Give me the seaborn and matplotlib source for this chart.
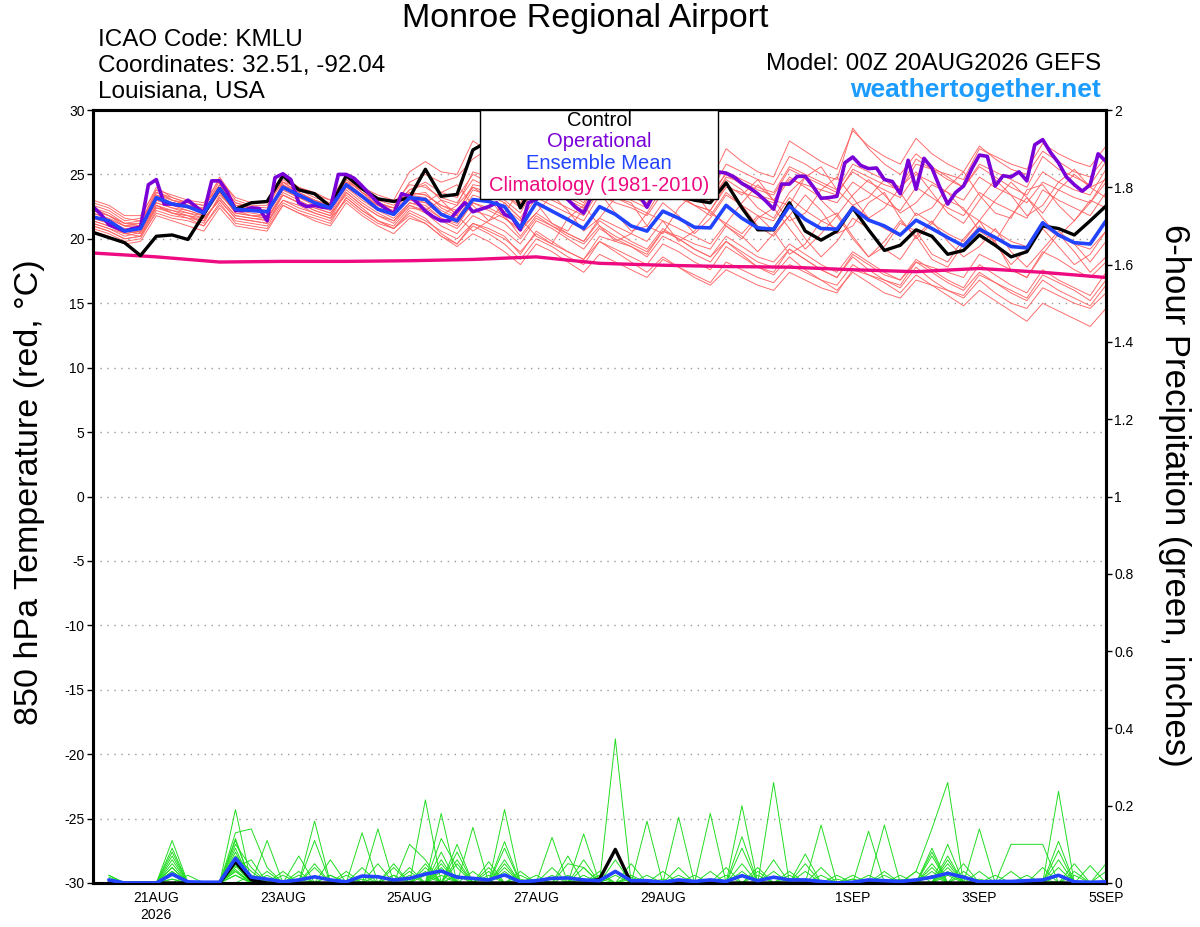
import numpy as np
import pandas as pd
import matplotlib
matplotlib.use("Agg")
import matplotlib.pyplot as plt
import matplotlib.dates as mdates
from matplotlib.patches import Rectangle
import seaborn as sns

# ---------------- data ----------------
start = pd.Timestamp("2026-08-20 00:00")

control_temp = [20.5, 20.1, 19.7, 18.7, 20.2, 20.3, 19.95, 21.9, 23.9, 22.3, 22.8, 22.9, 24.9, 23.8, 23.5, 22.5,
                24.9, 23.9, 23.1, 22.9, 23.2, 25.4, 23.3, 23.45, 26.9, 27.6, 25.5, 22.4, 24.5, 24.8, 24.0, 23.6,
                24.6, 24.2, 23.8, 23.5, 24.3, 23.3, 23.0, 22.8, 24.35, 22.4, 20.7, 20.7, 22.8, 20.6, 19.9, 20.6,
                22.4, 20.7, 19.1, 19.5, 20.7, 20.2, 18.8, 19.1, 20.3, 19.5, 18.6, 19.0, 21.0, 20.8, 20.3, 21.4, 22.55]

mean_temp = [21.7, 21.4, 20.6, 20.8, 23.2, 22.7, 22.5, 22.0, 23.9, 22.3, 22.2, 22.1, 24.0, 23.4, 22.8, 22.4,
             24.2, 23.3, 22.3, 21.9, 23.2, 23.05, 21.9, 21.4, 23.05, 22.9, 22.5, 20.85, 22.8, 22.15, 21.5, 20.8,
             22.5, 21.9, 21.0, 20.6, 22.15, 21.6, 20.9, 20.85, 22.6, 21.6, 20.85, 20.75, 22.55, 21.5, 20.8, 20.75,
             22.4, 21.45, 21.0, 20.3, 21.45, 20.8, 20.1, 19.45, 20.75, 20.1, 19.4, 19.3, 21.25, 20.3, 19.7, 19.6, 21.4]

# operational run is 3-hourly
oper_temp = [22.5, 21.9, 21.1, 20.85, 20.6, 20.8, 20.9, 24.2, 24.6, 22.7, 22.7, 22.6, 23.0, 22.5, 22.0, 24.5,
             24.5, 23.6, 22.2, 22.2, 22.4, 22.35, 21.4, 24.75, 25.05, 24.6, 22.8, 22.5, 22.6, 22.45, 22.4, 25.0,
             25.0, 24.7, 24.1, 23.45, 22.8, 22.35, 21.95, 23.5, 23.3, 22.8, 22.15, 21.7, 21.4, 21.4, 22.15, 22.8,
             22.1, 22.3, 22.5, 22.8, 21.9, 21.6, 20.7, 22.8, 23.05, 23.5, 23.8, 23.6, 23.05, 22.45, 22.0, 23.3,
             24.0, 24.3, 24.0, 23.8, 23.6, 23.4, 22.45, 23.6, 24.2, 24.5, 24.6, 24.8, 24.6, 24.0, 23.2, 25.2,
             25.1, 24.8, 24.3, 23.95, 23.5, 22.95, 22.3, 24.25, 24.25, 24.85, 24.85, 24.05, 23.15, 23.2, 23.3, 25.9,
             26.35, 25.7, 25.45, 25.5, 24.6, 24.45, 23.5, 26.1, 23.85, 26.25, 25.5, 24.0, 22.7, 23.6, 24.1, 25.4,
             26.5, 26.4, 24.1, 24.9, 24.8, 25.2, 24.5, 27.3, 27.7, 26.7, 25.9, 24.8, 24.2, 23.7, 24.2, 26.6, 26.0]

# climatology, daily
clim_temp = [18.9, 18.6, 18.2, 18.25, 18.25, 18.3, 18.4, 18.6, 18.1, 17.95, 17.85, 17.8, 17.6, 17.45, 17.7, 17.4, 17.0]

temp_m01 = [22.0, 21.5, 21.0, 21.2, 23.8, 23.0, 22.6, 22.3, 24.5, 22.8, 22.5, 22.4, 24.6, 23.8, 23.2, 22.8, 24.8, 23.6, 22.8, 22.4, 23.8,
            24.2, 23.0, 22.6, 25.2, 24.8, 24.0, 23.2, 25.6, 25.0, 24.4, 23.8, 26.0, 25.2, 24.6, 24.0, 26.4, 25.6, 24.8, 24.4, 27.0,
            26.0, 25.2, 24.8, 27.6, 26.8, 26.0, 25.4, 28.4, 27.2, 26.4, 25.8, 27.8, 26.6, 25.8, 25.2, 27.2, 26.2, 25.4, 25.0, 26.8, 26.0, 25.2, 24.8, 26.4]
temp_m02 = [21.2, 20.8, 20.2, 20.5, 22.6, 22.0, 21.8, 21.4, 23.2, 21.8, 21.6, 21.5, 23.4, 22.8, 22.2, 21.8, 23.6, 22.6, 21.8, 21.2, 22.6,
            22.0, 21.0, 20.4, 21.8, 21.2, 20.6, 19.6, 21.4, 20.8, 20.0, 19.2, 20.8, 20.0, 19.4, 18.6, 20.2, 19.6, 18.8, 18.2, 19.8,
            19.0, 18.2, 17.8, 19.2, 18.4, 17.6, 17.0, 18.6, 17.6, 16.8, 16.2, 17.8, 16.8, 16.0, 15.4, 16.8, 15.8, 15.0, 14.6, 16.2, 15.6, 15.0, 14.6, 15.8]
temp_m03 = [22.4, 22.0, 21.2, 21.0, 23.6, 23.2, 22.8, 22.2, 24.0, 22.6, 22.4, 22.0, 24.2, 23.6, 23.0, 22.6, 24.4, 23.4, 22.6, 22.0, 23.4,
            23.6, 22.4, 21.8, 23.8, 23.4, 22.8, 21.6, 23.6, 23.0, 22.4, 21.8, 23.8, 23.2, 22.6, 22.0, 24.0, 23.4, 22.6, 22.2, 24.2,
            23.4, 24.6, 23.0, 22.6, 24.8, 25.6, 23.8, 22.6, 23.2, 24.6, 23.6, 21.8, 22.4, 24.0, 25.2, 23.4, 22.0, 21.6, 23.8, 24.2, 22.6, 21.4, 22.8, 24.4]
temp_m04 = [21.0, 20.6, 20.0, 20.2, 22.4, 22.2, 22.0, 21.6, 23.0, 21.6, 21.4, 21.2, 23.0, 22.6, 22.0, 21.6, 23.0, 22.0, 21.2, 20.8, 22.2,
            21.6, 20.4, 19.6, 21.2, 20.8, 20.2, 18.8, 20.6, 19.8, 19.0, 18.4, 20.2, 19.8, 19.4, 18.8, 20.6, 20.2, 19.6, 19.2, 21.0,
            20.2, 19.0, 20.4, 21.8, 20.0, 18.6, 19.8, 21.6, 20.8, 19.2, 18.4, 20.2, 21.4, 19.8, 18.6, 19.4, 20.8, 19.0, 17.8, 19.2, 20.6, 19.6, 18.2, 19.8]
temp_m05 = [22.8, 22.4, 21.6, 21.4, 23.2, 22.8, 22.6, 22.4, 24.8, 23.0, 22.6, 22.6, 24.8, 24.0, 23.6, 23.0, 25.0, 24.0, 23.4, 23.0, 25.2,
            26.0, 25.2, 25.0, 27.6, 26.8, 25.6, 24.2, 26.2, 25.4, 24.4, 23.4, 25.0, 24.2, 23.4, 22.6, 24.2, 23.4, 22.6, 21.8, 23.6,
            22.6, 21.8, 21.4, 23.2, 22.2, 21.4, 20.8, 22.6, 21.6, 20.8, 20.2, 22.0, 21.2, 20.4, 19.8, 21.4, 20.6, 19.8, 19.4, 21.0, 20.2, 19.6, 19.2, 20.6]
temp_m06 = [21.6, 21.2, 20.4, 20.6, 22.8, 22.4, 22.2, 21.8, 23.6, 22.0, 21.8, 21.6, 23.6, 23.0, 22.4, 22.0, 23.4, 22.4, 21.4, 20.8, 21.8,
            21.2, 20.2, 19.4, 20.4, 19.8, 19.0, 18.0, 19.6, 19.0, 18.2, 17.4, 18.8, 18.2, 17.6, 17.0, 18.4, 17.8, 17.2, 16.6, 18.2,
            17.6, 17.0, 16.6, 18.0, 17.4, 16.8, 16.4, 18.0, 17.2, 16.6, 15.8, 17.2, 16.4, 15.6, 14.8, 16.0, 15.2, 14.4, 13.6, 15.0, 14.4, 13.8, 13.2, 14.6]
temp_m07 = [22.2, 21.8, 21.0, 20.8, 23.0, 22.6, 22.4, 22.0, 23.8, 22.4, 22.2, 22.0, 24.4, 23.6, 23.0, 22.4, 24.6, 23.6, 22.6, 22.2, 23.6,
            23.4, 22.6, 22.0, 24.2, 24.0, 23.4, 22.6, 24.8, 24.2, 23.6, 22.8, 25.0, 24.4, 23.8, 23.2, 25.4, 24.8, 24.2, 23.6, 25.8,
            25.2, 24.6, 24.2, 26.4, 25.8, 25.0, 24.6, 28.6, 27.0, 25.8, 25.0, 26.6, 25.6, 24.8, 24.0, 25.6, 24.8, 24.0, 23.4, 25.2, 24.4, 23.8, 23.4, 25.4]
temp_m08 = [20.8, 20.4, 19.8, 20.0, 22.2, 21.8, 21.6, 21.0, 22.8, 21.2, 21.0, 20.8, 22.6, 22.0, 21.6, 21.2, 23.2, 22.2, 21.4, 21.0, 22.4,
            22.2, 23.0, 21.8, 20.6, 21.4, 22.8, 21.6, 20.2, 19.6, 21.6, 22.6, 21.0, 19.8, 20.4, 22.0, 21.4, 19.8, 20.6, 22.2, 21.0,
            20.0, 21.6, 22.4, 20.8, 19.2, 20.4, 21.8, 20.0, 18.6, 19.4, 21.2, 20.6, 18.8, 18.2, 20.0, 21.4, 19.6, 18.0, 19.2, 20.8, 19.4, 18.0, 18.8, 20.6]
temp_m09 = [23.0, 22.6, 21.8, 21.8, 23.8, 23.4, 23.0, 22.8, 24.6, 23.2, 22.8, 22.8, 24.4, 24.0, 23.4, 23.0, 24.4, 23.8, 23.2, 22.8, 24.2,
            24.0, 23.2, 22.8, 24.6, 24.0, 23.4, 22.4, 24.4, 23.8, 23.0, 22.4, 24.2, 23.6, 23.0, 22.4, 24.8, 24.2, 23.6, 23.0, 25.2,
            24.6, 24.0, 23.6, 25.6, 25.0, 24.4, 23.8, 25.8, 25.2, 24.6, 24.0, 26.2, 25.4, 24.6, 24.0, 25.8, 25.2, 24.6, 24.0, 26.4, 25.4, 24.8, 24.2, 26.0]
temp_m10 = [21.4, 21.0, 20.6, 20.4, 22.4, 22.0, 21.8, 21.2, 23.4, 22.2, 21.8, 21.8, 23.8, 23.2, 22.6, 22.2, 24.0, 23.0, 22.2, 21.6, 22.8,
            22.4, 21.6, 21.0, 22.8, 22.2, 21.6, 20.6, 22.0, 21.2, 20.4, 19.8, 21.4, 20.6, 19.8, 19.2, 20.8, 20.0, 19.2, 18.6, 19.8,
            18.8, 17.8, 17.2, 18.6, 17.6, 16.8, 16.0, 17.4, 16.6, 15.8, 15.4, 16.8, 16.4, 16.0, 15.6, 17.2, 16.6, 16.0, 15.4, 17.2, 16.6, 16.0, 15.2, 16.8]
temp_m11 = [22.6, 22.2, 21.4, 21.6, 24.0, 23.2, 22.8, 22.6, 24.2, 22.6, 22.4, 22.2, 23.8, 23.2, 22.8, 22.4, 24.2, 23.2, 22.4, 22.0, 23.0,
            22.8, 23.6, 24.2, 22.6, 21.4, 22.0, 23.8, 22.8, 21.2, 20.6, 22.4, 23.6, 22.0, 20.6, 21.0, 22.8, 21.8, 20.4, 21.6, 23.4,
            22.6, 21.0, 20.2, 21.8, 23.4, 22.2, 20.4, 21.0, 22.8, 23.6, 21.6, 20.0, 21.2, 23.0, 22.4, 20.6, 19.8, 21.8, 23.2, 21.6, 20.2, 21.4, 23.0, 22.4]
temp_m12 = [21.8, 21.4, 20.8, 20.8, 22.8, 22.4, 22.0, 21.8, 23.6, 22.0, 21.8, 21.6, 23.4, 22.8, 22.4, 22.0, 24.0, 23.2, 22.6, 22.4, 24.4,
            25.0, 24.4, 24.8, 26.2, 27.0, 26.6, 25.2, 26.0, 25.2, 24.4, 23.6, 25.4, 24.8, 24.2, 23.6, 25.6, 25.0, 24.2, 23.6, 25.0,
            24.2, 23.4, 23.0, 24.8, 24.0, 23.2, 22.8, 24.4, 23.6, 22.8, 22.2, 24.0, 23.2, 22.4, 21.8, 23.6, 22.8, 22.2, 21.6, 23.8, 23.0, 22.4, 21.8, 23.6]
temp_m13 = [20.6, 20.2, 19.6, 19.8, 21.8, 21.4, 21.0, 20.6, 22.4, 21.0, 20.8, 20.6, 22.6, 22.0, 21.4, 21.0, 22.8, 21.8, 21.0, 20.4, 21.6,
            21.2, 20.2, 19.6, 21.0, 20.4, 19.6, 18.4, 20.0, 19.4, 18.6, 18.0, 19.8, 19.2, 18.6, 18.0, 19.6, 19.0, 18.2, 17.6, 19.4,
            18.6, 17.8, 17.4, 19.2, 18.4, 17.6, 17.0, 18.8, 18.0, 17.2, 16.8, 18.4, 17.6, 16.8, 16.2, 18.0, 17.2, 16.4, 15.8, 17.6, 16.8, 16.2, 15.6, 17.4]
temp_m14 = [22.0, 21.6, 21.0, 21.0, 23.4, 22.8, 22.4, 22.0, 24.2, 22.8, 22.4, 22.2, 24.0, 23.2, 22.8, 22.4, 24.4, 23.4, 22.6, 22.0, 23.4,
            23.2, 22.2, 21.6, 23.4, 23.0, 22.4, 21.4, 23.2, 22.6, 22.0, 21.4, 23.4, 22.8, 22.4, 21.8, 23.6, 23.2, 22.6, 22.2, 24.0,
            23.6, 23.2, 22.8, 24.6, 24.2, 23.8, 23.4, 25.4, 24.8, 24.2, 23.8, 25.8, 25.4, 25.0, 24.6, 27.0, 26.4, 25.8, 25.4, 27.4, 26.6, 26.0, 25.6, 27.2]
temp_m15 = [21.2, 20.8, 20.4, 20.2, 22.6, 22.2, 21.8, 21.6, 23.0, 21.6, 21.4, 21.2, 23.4, 22.8, 22.2, 21.8, 23.8, 22.8, 22.0, 21.4, 22.8,
            22.6, 21.6, 21.2, 22.8, 22.4, 21.8, 20.2, 21.8, 21.0, 20.4, 19.8, 21.6, 21.0, 20.4, 19.8, 21.4, 20.8, 20.2, 19.6, 21.2,
            20.4, 21.8, 20.6, 18.8, 19.6, 21.4, 22.0, 20.2, 18.6, 19.8, 21.4, 20.2, 18.4, 17.8, 19.6, 21.0, 19.8, 17.6, 17.0, 18.8, 20.4, 19.0, 17.4, 18.6]
temp_m16 = [22.4, 21.8, 21.2, 21.2, 23.4, 23.0, 22.8, 22.6, 24.0, 22.6, 22.2, 22.2, 24.2, 23.4, 23.0, 22.6, 24.6, 23.6, 23.0, 22.6, 23.8,
            24.4, 23.6, 23.2, 25.0, 24.4, 23.8, 22.8, 24.6, 24.2, 23.8, 23.2, 25.4, 25.0, 24.4, 23.8, 25.2, 24.6, 23.8, 23.2, 24.6,
            23.8, 22.4, 21.6, 23.6, 24.8, 23.0, 21.8, 23.4, 24.6, 23.4, 22.0, 22.8, 24.2, 23.6, 22.2, 21.4, 23.0, 24.4, 23.2, 22.0, 23.8, 25.0, 24.0, 24.6]
temp_m17 = [21.0, 20.6, 20.0, 20.2, 22.0, 21.6, 21.4, 21.0, 22.6, 21.4, 21.2, 21.0, 22.8, 22.2, 21.8, 21.4, 23.2, 22.2, 21.4, 20.8, 22.0,
            21.4, 20.6, 20.0, 21.2, 20.6, 20.0, 19.0, 20.4, 19.6, 19.0, 18.4, 19.8, 19.0, 18.2, 17.4, 18.6, 17.8, 17.0, 16.4, 17.6,
            17.0, 16.4, 16.0, 17.4, 16.8, 16.2, 15.8, 17.6, 17.2, 16.8, 16.4, 18.2, 17.8, 17.4, 17.0, 18.8, 18.2, 17.6, 17.0, 19.0, 18.4, 17.6, 17.0, 18.2]
temp_m18 = [22.2, 21.8, 21.2, 21.4, 23.6, 23.0, 22.6, 22.2, 23.8, 22.4, 22.2, 22.0, 24.2, 23.4, 22.8, 22.4, 24.2, 23.2, 22.4, 21.8, 23.2,
            22.8, 21.8, 22.6, 24.0, 23.2, 21.6, 20.8, 22.0, 23.4, 22.2, 20.6, 21.6, 23.2, 22.8, 21.0, 20.4, 22.4, 23.6, 22.0, 21.2,
            22.8, 24.2, 23.0, 21.4, 22.0, 23.8, 24.8, 23.2, 21.6, 22.4, 24.0, 25.2, 23.6, 22.0, 21.2, 23.0, 24.6, 23.4, 21.8, 22.6, 24.4, 25.4, 24.0, 23.2]
temp_m19 = [21.6, 21.2, 20.6, 20.6, 23.0, 22.6, 22.2, 21.8, 23.8, 22.2, 22.0, 21.8, 24.4, 23.6, 23.0, 22.6, 24.8, 23.8, 22.8, 22.4, 23.6,
            23.4, 22.6, 22.2, 24.0, 23.6, 23.0, 22.0, 24.2, 23.8, 23.2, 22.6, 24.6, 24.0, 23.4, 22.8, 24.6, 24.0, 23.4, 22.8, 24.8,
            24.4, 23.8, 23.4, 25.4, 24.8, 24.2, 23.6, 25.2, 24.4, 23.8, 23.2, 25.0, 24.4, 23.6, 23.0, 24.8, 24.0, 23.4, 22.8, 24.4, 23.8, 23.2, 22.8, 24.8]
temp_m20 = [21.4, 21.0, 20.4, 20.6, 22.6, 22.0, 21.6, 21.4, 23.2, 21.8, 21.6, 21.4, 23.0, 22.4, 22.0, 21.6, 23.6, 22.6, 21.8, 21.4, 22.6,
            22.2, 21.4, 20.8, 22.2, 21.8, 21.2, 20.0, 21.6, 21.0, 20.2, 19.6, 21.0, 20.2, 19.6, 19.0, 20.6, 20.0, 19.2, 18.6, 20.2,
            19.4, 18.6, 18.2, 19.6, 18.8, 18.0, 17.4, 19.0, 18.2, 17.4, 16.8, 18.2, 17.4, 16.6, 16.0, 17.4, 16.6, 15.8, 15.2, 16.8, 16.0, 15.4, 14.8, 16.4]

ens_temp = [temp_m01, temp_m02, temp_m03, temp_m04, temp_m05, temp_m06, temp_m07, temp_m08, temp_m09, temp_m10,
            temp_m11, temp_m12, temp_m13, temp_m14, temp_m15, temp_m16, temp_m17, temp_m18, temp_m19, temp_m20]

# 6-hour precipitation (inches), valid 06Z 20 Aug .. 00Z 5 Sep
mean_precip = [.008, 0, 0, 0, .023, .003, .002, .002, .064, .015, .01, .003, .008, .016, .008, .003,
               .018, .016, .008, .012, .023, .031, .015, .012, .008, .021, .003, .006, .012, .013, .008, .006,
               .03, .006, .006, .002, .008, .004, .008, .004, .019, .006, .015, .008, .008, .004, 0, .002,
               .008, .006, .004, .008, .015, .025, .015, .003, .004, .004, .006, .008, .02, .003, .002, .003]
control_precip = [0, 0, 0, 0, 0, 0, 0, 0, .055, .008, 0, 0, 0, 0, 0, 0,
                  0, 0, 0, 0, 0, 0, 0, 0, 0, 0, 0, 0, 0, 0, 0, .01,
                  .087, 0, 0, 0, 0, 0, 0, 0, 0, 0, 0, 0, 0, 0, 0, 0,
                  0, 0, 0, 0, 0, 0, 0, 0, 0, 0, 0, 0, 0, 0, 0, 0]

prcp_m01 = [.02,0,0,0,.11,0,0,0, .19,0,0,0,0,.16,0,0, 0,0,0,0,.215,0,0,0, 0,.19,0,0,0,0,0,0, .373,0,0,0,0,0,0,0, 0,0,.26,0,0,0,0,0, 0,0,0,.03,.14,.26,0,0, 0,0,0,0,.237,0,0,0]
prcp_m02 = [0,0,0,0,.09,0,0,0, .13,.14,.04,0,0,0,0,0, .13,0,0,0,0,.18,0,0, 0,0,0,0,0,.07,0,0, 0,0,0,0,.17,0,0,0, 0,0,0,0,0,0,0,0, .134,0,0,0,.09,0,0,0, 0,0,0,0,.108,0,0,0]
prcp_m03 = [0,0,0,0,.07,0,0,0, .115,0,0,.02,0,.11,0,0, 0,.14,0,0,0,0,.10,0, .055,0,0,0,0,0,.127,0, 0,0,.16,0,0,0,0,0, .12,0,0,0,0,.15,0,0, 0,0,0,0,0,0,0,.14, 0,0,0,0,0,.05,0,0]
prcp_m04 = [0,0,0,0,.05,0,0,0, .09,0,.11,0,.07,0,0,0, 0,0,0,.10,.06,0,0,.144, 0,.107,0,0,0,0,0,.03, 0,0,0,0,0,0,.18,0, 0,0,0,0,.075,0,0,0, 0,.15,0,0,.08,0,0,0, 0,.1,.1,.1,0,0,0,0]
prcp_m05 = [.015,0,0,0,.04,0,0,0, .07,.03,0,0,0,0,.02,0, 0,0,.05,0,0,.115,.04,0, 0,0,0,0,.118,0,0,0, .03,0,0,0,0,0,0,0, .2,0,0,.03,0,0,0,0, 0,0,0,0,0,.06,0,0, 0,0,0,0,.084,0,0,.05]
prcp_m06 = [0,0,0,0,.03,0,0,0, .05,0,0,0,0,0,0,.03, 0,0,0,.04,0,.08,0,0, 0,.06,0,0,0,.05,.04,0, 0,.02,0,0,0,0,0,0, .09,0,.06,0,0,0,0,.02, 0,0,0,0,.07,0,0,0, 0,0,0,0,0,0,.045,0]
prcp_m07 = [0,0,0,0,.02,0,0,0, .04,.06,0,0,0,.04,0,0, 0,.05,0,0,.05,0,0,0, .03,0,0,.02,0,0,0,0, 0,0,0,.03,0,0,0,0, 0,.04,0,0,0,0,.01,0, 0,0,0,0,0,.04,0,0, 0,.03,0,0,0,0,0,0]
prcp_m08 = [0,0,0,0,0,0,0,0, .03,0,.03,0,0,0,0,0, .04,0,.02,0,0,0,.06,0, 0,0,.02,0,0,0,.06,0, 0,0,0,0,.04,0,0,0, 0,0,0,.02,0,0,0,0, 0,.03,0,0,0,0,.05,0, 0,0,0,.04,0,0,0,0]
prcp_m09 = [0,0,0,0,.01,0,0,0, .02,0,0,0,.03,0,0,0, 0,0,0,.02,0,.05,0,0, 0,.04,0,0,0,0,0,.02, 0,0,0,0,0,0,0,.04, 0,0,0,0,.05,0,0,0, 0,0,0,.03,0,.07,0,0, 0,0,0,0,.02,0,0,0]
prcp_m10 = [0,0,0,0,0,.02,0,0, .06,0,0,0,0,0,.02,0, 0,0,0,0,.03,0,.02,0, 0,0,0,0,.04,0,0,0, 0,.05,0,0,0,0,0,0, .05,0,0,0,0,0,0,.01, 0,0,0,0,.04,0,0,.03, 0,0,0,0,0,.03,0,0]
prcp_m11 = [0,0,0,0,.06,0,0,0, .1,.04,0,0,0,0,0,0, .02,0,0,0,0,.03,0,0, 0,.09,0,0,0,0,.04,0, 0,0,0,0,0,0,.03,0, 0,0,0,0,0,.04,0,0, 0,0,.02,0,0,.10,0,0, 0,0,0,0,.06,0,0,0]
prcp_m12 = [0,0,0,0,0,0,0,0, .08,0,0,0,0,.05,0,0, 0,0,.04,0,0,.06,0,.03, 0,0,0,0,0,.02,0,0, .06,0,0,0,.02,0,0,0, 0,0,.03,0,0,0,0,0, .02,0,0,0,0,0,.03,0, 0,0,0,.01,0,0,0,0]
prcp_m13 = [0,0,0,0,.08,0,0,0, .06,0,0,0,0,0,0,0, 0,0,0,0,.02,0,.05,0, 0,0,.01,0,0,0,0,.02, 0,0,.02,0,0,0,0,0, .02,0,0,0,0,0,0,0, 0,0,0,0,.05,0,0,0, .02,0,0,0,0,0,0,0]
prcp_m14 = [0,0,0,0,0,0,0,0, .02,0,0,.03,0,0,0,.02, 0,0,0,0,0,.02,0,0, .02,0,0,0,.02,0,0,0, 0,.01,0,0,0,0,0,0, 0,.02,0,0,0,0,0,0, 0,0,.01,0,0,.03,0,0, 0,0,0,0,0,0,0,0]
prcp_m15 = [0,0,0,0,.04,0,0,0, 0,.02,0,0,.02,0,0,0, 0,0,0,.03,0,0,0,0, 0,.03,0,0,0,0,.02,0, 0,0,0,0,0,.02,0,0, 0,0,0,0,.03,0,0,0, 0,0,0,0,.02,0,0,0, 0,0,0,0,.04,0,0,0]
prcp_m16 = [0,0,0,0,0,0,0,0, .11,0,.02,0,0,0,0,0, 0,.02,0,0,0,0,.08,0, 0,0,0,.01,0,0,0,0, .02,0,0,0,0,0,0,0, .03,0,0,0,0,0,.02,0, 0,0,0,0,0,.05,0,0, 0,0,0,0,0,0,0,.03]
prcp_m17 = [0,0,0,0,.01,0,0,0, .045,0,0,0,0,0,.06,0, 0,0,0,0,.04,0,0,0, 0,0,.03,0,0,0,0,0, 0,0,0,.01,0,0,0,0, 0,0,0,.01,0,0,0,0, 0,0,0,0,0,0,.02,0, 0,0,.02,0,0,0,0,0]
prcp_m18 = [0,0,0,0,0,0,0,0, .03,0,0,0,.01,0,0,0, 0,0,0,0,0,.04,0,0, .04,0,0,0,0,0,0,.01, 0,0,0,0,0,0,0,.02, 0,0,0,0,0,.02,0,0, 0,0,0,0,.03,0,0,0, 0,0,0,0,0,.02,0,0]
prcp_m19 = [.02,0,0,0,0,0,0,0, .055,0,0,0,0,0,0,0, .01,0,0,0,0,0,.02,0, 0,0,0,0,0,0,.01,0, 0,0,0,0,0,0,.01,0, 0,0,0,0,0,0,0,.01, 0,0,0,0,0,.02,0,0, 0,0,0,0,0,0,0,0]
prcp_m20 = [0,0,0,0,.03,0,0,0, .035,0,0,0,0,0,0,0, 0,0,.02,0,0,0,0,0, 0,.05,0,0,0,0,0,0, 0,.015,0,0,0,0,0,0, 0,.03,0,0,0,0,0,0, 0,.02,0,0,0,0,0,.01, 0,0,0,0,0,0,0,0]

ens_precip = [prcp_m01, prcp_m02, prcp_m03, prcp_m04, prcp_m05, prcp_m06, prcp_m07, prcp_m08, prcp_m09, prcp_m10,
              prcp_m11, prcp_m12, prcp_m13, prcp_m14, prcp_m15, prcp_m16, prcp_m17, prcp_m18, prcp_m19, prcp_m20]

xtick_dates = ["2026-08-21", "2026-08-23", "2026-08-25", "2026-08-27", "2026-08-29", "2026-09-01", "2026-09-03", "2026-09-05"]
xtick_labels = ["21AUG\n2026", "23AUG", "25AUG", "27AUG", "29AUG", "1SEP", "3SEP", "5SEP"]
temp_ticks = list(range(-30, 31, 5))
prcp_ticks = [0, 0.2, 0.4, 0.6, 0.8, 1.0, 1.2, 1.4, 1.6, 1.8, 2.0]

# ---------------- frames ----------------
t6 = pd.date_range(start, periods=len(mean_temp), freq="6h")
t3 = pd.date_range(start, periods=len(oper_temp), freq="3h")
td = pd.date_range(start, periods=len(clim_temp), freq="1D")
tp = pd.date_range(start + pd.Timedelta(hours=6), periods=len(mean_precip), freq="6h")

ens_t_df = pd.concat([pd.DataFrame({"time": t6, "value": m, "member": k}) for k, m in enumerate(ens_temp)])
ens_p_df = pd.concat([pd.DataFrame({"time": tp, "value": m, "member": k}) for k, m in enumerate(ens_precip)])

# ---------------- plot ----------------
sns.set_theme(style="white")
plt.rcParams["font.family"] = ["Liberation Sans", "DejaVu Sans"]
plt.rcParams["text.color"] = "black"
plt.rcParams["axes.labelcolor"] = "black"
plt.rcParams["xtick.color"] = "black"
plt.rcParams["ytick.color"] = "black"

fig = plt.figure(figsize=(12, 9.27), dpi=100)
ax = fig.add_axes([93 / 1200, 1 - 883 / 927, (1106 - 93) / 1200, (883 - 110) / 927])
ax2 = ax.twinx()

RED = "#ff6464"
GREEN = "#22dd22"
PURPLE = "#7a00d8"
BLUE = "#2244ff"
PINK = "#ee0a80"

sns.lineplot(data=ens_t_df, x="time", y="value", units="member", estimator=None,
             color=RED, lw=0.65, ax=ax, legend=False, zorder=2)
sns.lineplot(x=td, y=clim_temp, color=PINK, lw=2.4, ax=ax, zorder=3)
sns.lineplot(x=t6, y=control_temp, color="black", lw=2.4, ax=ax, zorder=4)
sns.lineplot(x=t3, y=oper_temp, color=PURPLE, lw=2.6, ax=ax, zorder=5)
sns.lineplot(x=t6, y=mean_temp, color=BLUE, lw=2.6, ax=ax, zorder=6)

sns.lineplot(data=ens_p_df, x="time", y="value", units="member", estimator=None,
             color=GREEN, lw=0.7, ax=ax2, legend=False, zorder=2)
sns.lineplot(x=tp, y=control_precip, color="black", lw=2.4, ax=ax2, zorder=4)
sns.lineplot(x=tp, y=mean_precip, color=BLUE, lw=2.6, ax=ax2, zorder=5)

ax.set_xlim(start, start + pd.Timedelta(days=16))
ax.set_ylim(-30, 30)
ax2.set_ylim(0, 2)

ax.set_yticks(temp_ticks)
ax.set_yticklabels([str(v) for v in temp_ticks], fontsize=10)
ax2.set_yticks(prcp_ticks)
ax2.set_yticklabels([f"{v:g}" for v in prcp_ticks], fontsize=10)
ax.set_xticks(mdates.date2num(pd.to_datetime(xtick_dates)))
ax.set_xticklabels(xtick_labels, fontsize=10, linespacing=1.2)
ax.set_xlabel("")
ax.set_ylabel("")
ax2.set_ylabel("")

for a in (ax, ax2):
    a.tick_params(axis="both", which="major", direction="out", length=4, width=1, color="black",
                  labelcolor="black", pad=2)
    for s in a.spines.values():
        s.set_color("black")
        s.set_linewidth(2.2)

ax.yaxis.grid(True, linestyle=(0, (1, 4)), color="#9a9a9a", lw=1.0)
ax.xaxis.grid(False)
ax2.grid(False)

# legend box
ax2.add_patch(Rectangle(((480 - 93) / 1013, (883 - 199) / 773), (718 - 480) / 1013, (199 - 110) / 773,
                        transform=ax.transAxes, facecolor="white", edgecolor="black", lw=1.0, zorder=20,
                        clip_on=False))
leg_items = [("Control", "black"), ("Operational", PURPLE), ("Ensemble Mean", BLUE),
             ("Climatology (1981-2010)", PINK)]
for k, (lab, col) in enumerate(leg_items):
    ax2.text((599 - 93) / 1013, (883 - (120 + 21.7 * k)) / 773, lab, color=col, fontsize=14.5,
             ha="center", va="center", transform=ax.transAxes, zorder=21)

# titles and labels
fig.text(585 / 1200, 1 - 18 / 927, "Monroe Regional Airport", fontsize=24.5, ha="center", va="center")
fig.text(98 / 1200, 1 - 40 / 927, "ICAO Code: KMLU", fontsize=17.5, ha="left", va="center")
fig.text(98 / 1200, 1 - 66 / 927, "Coordinates: 32.51, -92.04", fontsize=17.5, ha="left", va="center")
fig.text(98 / 1200, 1 - 92 / 927, "Louisiana, USA", fontsize=17.5, ha="left", va="center")
fig.text(1101 / 1200, 1 - 64 / 927, "Model: 00Z 20AUG2026 GEFS", fontsize=17.5, ha="right", va="center")
fig.text(1101 / 1200, 1 - 90 / 927, "weathertogether.net", fontsize=19, ha="right", va="center",
         color="#1c9cff", fontweight="bold")
fig.text(30 / 1200, 1 - 492 / 927, "850 hPa Temperature (red, °C)", fontsize=24.5, rotation=90,
         ha="center", va="center")
fig.text(1175 / 1200, 1 - 495 / 927, "6-hour Precipitation (green, inches)", fontsize=25, rotation=270,
         ha="center", va="center")

fig.savefig("out.png", dpi=100)
